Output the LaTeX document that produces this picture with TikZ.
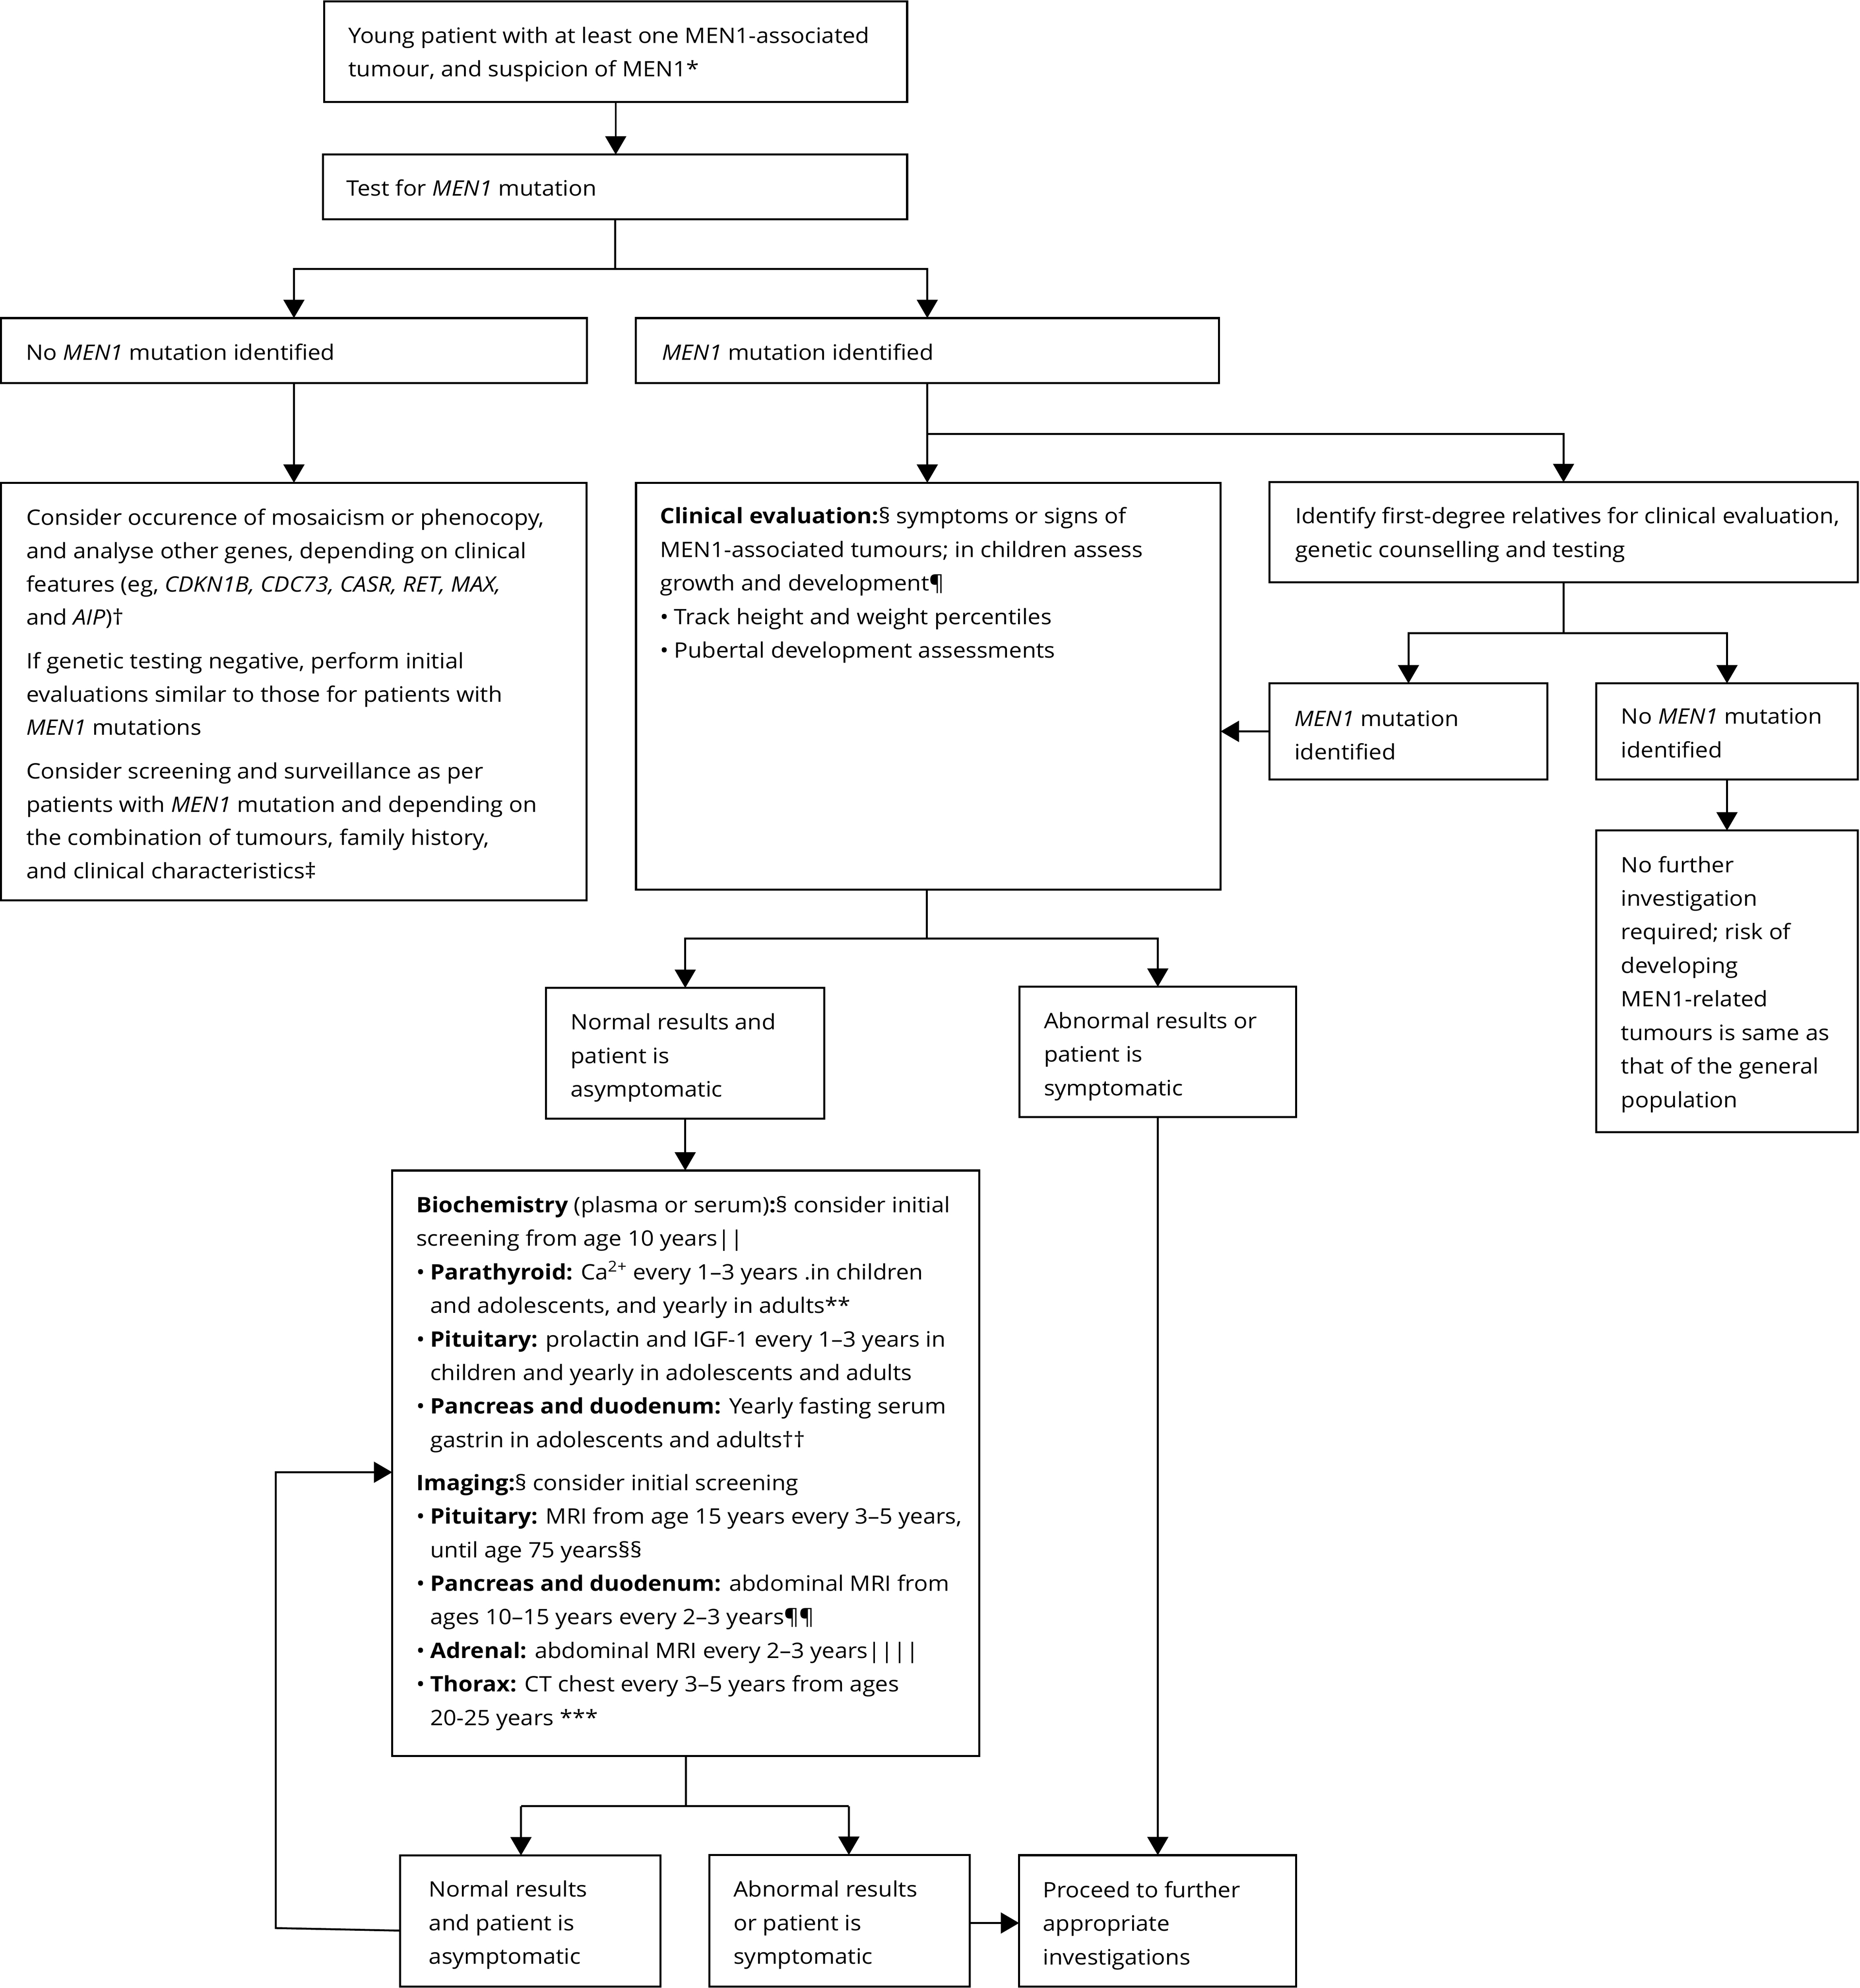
\documentclass[tikz,border=0pt]{standalone}
\usepackage{fontspec}
\setmainfont[FakeStretch=1.08]{Open Sans}
\usetikzlibrary{arrows.meta}
\newcommand\bul{\makebox[11pt][l]{•}}
\newcommand\ind{\hspace*{11pt}}
\newcommand\fstrut{\rule{0pt}{20pt}}
\tikzset{
  bx/.style={draw, line width=1.6pt, inner sep=0pt, outer sep=0pt, anchor=north west},
  tx/.style={anchor=north west, inner sep=0pt, outer sep=0pt, align=left,
             font=\fontsize{16.8}{26.5}\selectfont},
  ln/.style={line width=1.5pt},
  ar/.style={line width=1.5pt, -{Triangle[length=14.5pt,width=16.5pt]}},
}
\newcommand\bxn[5]{\node[bx, minimum width={(#4)-(#2)}, minimum height={(#5)-(#3)}] (#1) at (#2,#3) {};}
\newcommand\txt[4]{\node[tx] (#1) at (#2,{#3-20}) {\fstrut#4};}
\begin{document}
\begin{tikzpicture}[x=1pt,y=-1pt]
\useasboundingbox (0,0) rectangle (1468,1568.8);
% boxes
\bxn{b1}{256}{1.2}{716}{80.5}
\bxn{b2}{255}{122}{716}{173}
\bxn{b3}{0.8}{251}{463.2}{302.2}
\bxn{b4}{501.8}{251}{962}{302.2}
\bxn{b5}{0.8}{381}{463}{710.6}
\bxn{b6}{502}{381}{963.4}{702}
\bxn{b7}{1002}{380.5}{1466.2}{459.6}
\bxn{b8}{1002}{539.3}{1221.4}{615}
\bxn{b9}{1260}{539.3}{1466.2}{615}
\bxn{b10}{1260}{655.4}{1466.2}{893.4}
\bxn{b11}{431}{779.6}{650.7}{882.8}
\bxn{b12}{804.6}{778.7}{1023.1}{881.6}
\bxn{b13}{309.6}{923.7}{773}{1385.7}
\bxn{b14}{315.7}{1464.2}{521.2}{1567.6}
\bxn{b15}{560}{1463.8}{765.5}{1567.6}
\bxn{b16}{804.4}{1464}{1023.1}{1567.6}
% texts
\txt{t1}{275}{33.9}{Young patient with at least one MEN1-associated\\tumour, and suspicion of MEN1*}
\txt{t2}{273.3}{154.4}{Test for \textit{MEN1} mutation}
\txt{t3}{20.5}{284}{No \textit{MEN1} mutation identified}
\txt{t4}{522.5}{284}{\textit{MEN1} mutation identified}
\node[tx, font=\fontsize{16.8}{26.3}\selectfont] (t5) at (20.8,{414.3-20}) {\fstrut Consider occurence of mosaicism or phenocopy,\\
 and analyse other genes, depending on clinical\\
 features (eg, \textit{CDKN1B, CDC73, CASR, RET, MAX,}\\
 and \textit{AIP})†\\[8pt]
 If genetic testing negative, perform initial\\
 evaluations similar to those for patients with\\
 \textit{MEN1} mutations\\[8pt]
 Consider screening and surveillance as per\\
 patients with \textit{MEN1} mutation and depending on\\
 the combination of tumours, family history,\\
 and clinical characteristics‡};
\txt{t6}{521}{413.1}{\textbf{Clinical evaluation:}§ symptoms or signs of\\
 MEN1-associated tumours; in children assess\\
 growth and development¶\\
 \bul Track height and weight percentiles\\
 \bul Pubertal development assessments}
\txt{t7}{1022.3}{413.1}{Identify first-degree relatives for clinical evaluation,\\
 genetic counselling and testing}
\txt{t8}{1021.7}{573}{\textit{MEN1} mutation\\ identified}
\txt{t9}{1279.4}{571.3}{No \textit{MEN1} mutation\\ identified}
\txt{t10}{1279.4}{688.4}{No further\\ investigation\\ required; risk of\\ developing\\ MEN1-related\\ tumours is same as\\ that of the general\\ population}
\txt{t11}{450.4}{812.6}{Normal results and\\ patient is\\ asymptomatic}
\txt{t12}{824}{811.5}{Abnormal results or\\ patient is\\ symptomatic}
\txt{t13}{328.6}{956.7}{\textbf{Biochemistry} (plasma or serum)\textbf{:}§ consider initial\\
 screening from age 10 years||\\
 \bul\textbf{Parathyroid:} Ca\textsuperscript{2+} every 1–3 years .in children\\
 \ind and adolescents, and yearly in adults**\\
 \bul\textbf{Pituitary:} prolactin and IGF-1 every 1–3 years in\\
 \ind children and yearly in adolescents and adults\\
 \bul\textbf{Pancreas and duodenum:} Yearly fasting serum\\
 \ind gastrin in adolescents and adults††\\[7.3pt]
 \textbf{Imaging:}§ consider initial screening\\
 \bul\textbf{Pituitary:} MRI from age 15 years every 3–5 years,\\
 \ind until age 75 years§§\\
 \bul\textbf{Pancreas and duodenum:} abdominal MRI from\\
 \ind ages 10–15 years every 2–3 years¶¶\\
 \bul\textbf{Adrenal:} abdominal MRI every 2–3 years||||\\
 \bul\textbf{Thorax:} CT chest every 3–5 years from ages\\
 \ind 20-25 years ***}
\txt{t14}{338.5}{1496.8}{Normal results\\ and patient is\\ asymptomatic}
\txt{t15}{579}{1496.8}{Abnormal results\\ or patient is\\ symptomatic}
\txt{t16}{823.2}{1497.4}{Proceed to further\\ appropriate\\ investigations}
% junctions
\coordinate (j1) at (b2.south |- 0,212.3);
\coordinate (j2) at (b4.south |- 0,342.5);
\coordinate (j3) at (b7.south |- 0,499.6);
\coordinate (j4) at (731.5,740.5);
\coordinate (j5) at (b13.south |- 0,1425.3);
\coordinate (k1) at (411.2,1425.3);
\coordinate (k2) at (670,1425.3);
\coordinate (l1) at (217.7,1521.5);
\coordinate (l2) at (217.7,1161.8);
% connectors
\draw[ar] (b1.south) -- (b1.south |- b2.north);
\draw[ln] (b2.south) -- (j1);
\draw[ar] (j1) -| (b3.north);
\draw[ar] (j1) -| (b4.north);
\draw[ar] (b3.south) -- (b3.south |- b5.north);
\draw[ar] (b4.south) -- (b4.south |- b6.north);
\draw[ar] (j2) -| (b7.north);
\draw[ln] (b7.south) -- (j3);
\draw[ar] (j3) -| (b8.north);
\draw[ar] (j3) -| (b9.north);
\draw[ar] (b8.west) -- (b6.east |- b8.west);
\draw[ar] (b9.south) -- (b10.north);
\draw[ln] (b6.south -| j4) -- (j4);
\draw[ar] (j4) -| (b11.north);
\draw[ar] (j4) -| (b12.north);
\draw[ar] (b11.south) -- (b11.south |- b13.north);
\draw[ar] (b12.south) -- (b12.south |- b16.north);
\draw[ln] (b13.south) -- (j5);
\draw[ln] (k1) -- (k2);
\draw[ar] (k1) -- (k1 |- b14.north);
\draw[ar] (k2) -- (k2 |- b15.north);
\draw[ar] (b15.east |- 0,1517.5) -- (b16.west |- 0,1517.5);
\draw[ar] (b14.west |- 0,1523.5) -- (l1) -- (l2) -- (b13.west |- l2);
\end{tikzpicture}
\end{document}
